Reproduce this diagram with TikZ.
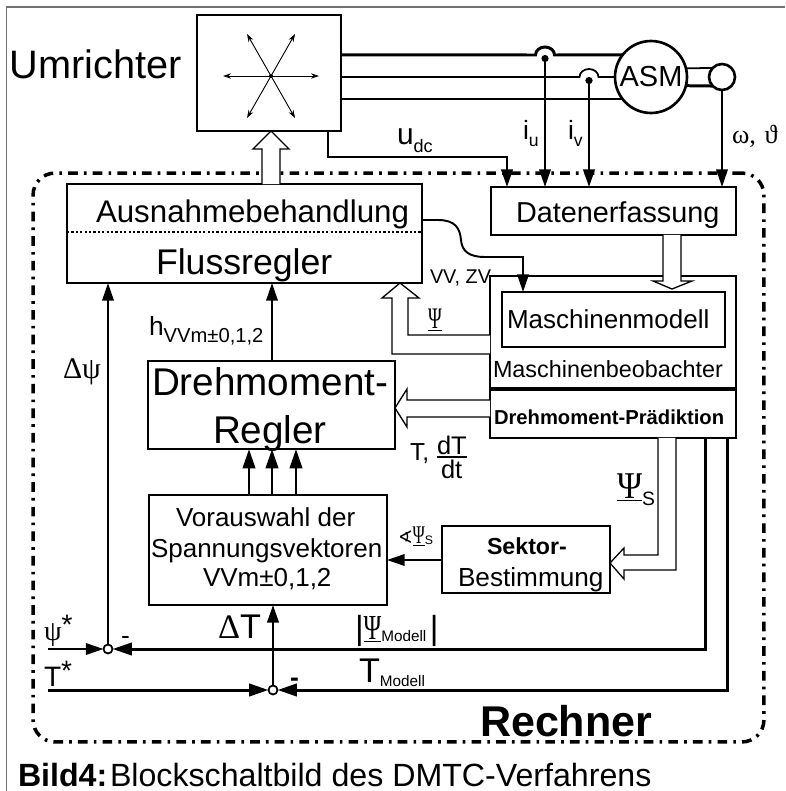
\documentclass[tikz,border=0pt]{standalone}
\usepackage{fontspec}
\usepackage{xcolor}
\usepackage{graphicx}
\setmainfont{Liberation Sans}
\newfontfamily\symfont{Liberation Serif}
\newfontfamily\angfont{DejaVu Sans}
\usetikzlibrary{arrows.meta,shapes.geometric}
\newcommand{\subtxt}[3]{\raisebox{-#1pt}{\fontsize{#2}{#2}\selectfont #3}}
\newcommand{\npsi}[1]{\underline{\scalebox{#1}[1]{Ψ}}}
\tikzset{
  blockbox/.style 2 args={draw, minimum width=#1cm, minimum height=#2cm, inner sep=0pt, outer sep=0pt, line width=1.2pt},
  txt/.style={anchor=base west, inner sep=0pt, outer sep=0pt, font=\fontsize{#1}{#1}\selectfont},
  txtb/.style={anchor=base west, inner sep=0pt, outer sep=0pt, font=\bfseries\fontsize{#1}{#1}\selectfont},
  txts/.style={anchor=base west, inner sep=0pt, outer sep=0pt, font=\symfont\fontsize{#1}{#1}\selectfont},
  thinline/.style={line width=1pt},
  thickline/.style={line width=1.7pt},
  arr/.style={-{Triangle[length=10pt,width=6.5pt]}, line width=1.1pt},
  thickarr/.style={-{Triangle[length=11pt,width=7pt]}, line width=1.7pt},
  hollow/.style={line width=0.75pt, fill=white},
  stararr/.style={-{Stealth[length=4.5pt,width=3pt]}, line width=0.5pt},
  sumdot/.style={circle, draw, fill=white, minimum size=0.18cm, inner sep=0pt, outer sep=0pt, line width=1pt},
  rechnerframe/.style={draw, minimum width=14.62cm, minimum height=11.38cm, inner sep=0pt, outer sep=0pt,
    rounded corners=0.44cm, line width=2pt, dash pattern=on 5.5pt off 3.5pt on 1.5pt off 3.5pt},
}
\begin{document}
\begin{tikzpicture}[x=0.02cm, y=-0.02cm]
  \useasboundingbox (0,0) rectangle (785,791);
  \draw[line width=0.9pt, black!55] (6.5,791) -- (6.5,7) -- (785,7);
  \node[rechnerframe] (rechner) at (398.5,457.5) {};

  \node[blockbox={2.88}{2.32}, line width=0.9pt] (umr) at (269,73) {};
  \node[blockbox={7.1}{1.98}, line width=1.5pt] (aus) at (244.5,233.5) {};
  \node[blockbox={4.9}{0.96}, line width=1pt] (dat) at (613.5,211) {};
  \node[blockbox={4.92}{3.24}] (beob) at (613,357) {};
  \node[blockbox={4.46}{1.1}] (modell) at (613.5,319.5) {};
  \node[blockbox={4.94}{1.76}] (reg) at (271.5,405) {};
  \node[blockbox={4.76}{2.2}] (vor) at (268,550) {};
  \node[blockbox={3.36}{1.34}] (sek) at (526,559.5) {};
  \node[circle, draw, line width=1.5pt, minimum size=1.44cm, inner sep=0pt, outer sep=0pt,
    font=\fontsize{16.5}{16.5}\selectfont] (asm) at (651,77) {ASM};
  \node[circle, draw, line width=1.5pt, minimum size=0.52cm, inner sep=0pt, outer sep=0pt] (enc) at (722,77) {};
  \node[sumdot] (sumpsi) at (108,649) {};
  \node[sumdot] (sumt) at (273,690) {};
  \coordinate (star) at (271,76);
  \coordinate (iu) at (545,55);
  \coordinate (iv) at (589,77);
  \coordinate (psiin) at (48,649);
  \coordinate (tin) at (48,690);

  \foreach \dx/\dy in {48/0,-48/0,24/-42,-24/-42,24/42,-24/42} {
    \draw[stararr] (star) -- ++(\dx,\dy);
  }
  \fill (star) circle (2);

  \draw[dash pattern=on 1.3pt off 1.2pt, line width=0.9pt] (aus.west |- 0,232) -- (aus.east |- 0,232);
  \draw[line width=1.8pt] (beob.west |- 0,389) -- (beob.east |- 0,389);

  \draw[thickline] (umr.east |- asm.142) -- (535.5,55) arc[start angle=180, end angle=360, x radius=9.5, y radius=8] -- (asm.142);
  \draw[thinline] (umr.east |- asm.180) -- (579.5,77) arc[start angle=180, end angle=360, x radius=9.5, y radius=8] -- (asm.180);
  \draw[thinline] (umr.east |- asm.218) -- (asm.218);
  \draw[thinline] (asm.14) -- (enc.136);
  \draw[thickline] (asm.346) -- (enc.224);

  \draw[{Circle[length=4pt]}-{Triangle[length=10pt,width=6.5pt]}, line width=1.1pt] (iu) -- (iu |- dat.north);
  \draw[{Circle[length=4pt]}-{Triangle[length=10pt,width=6.5pt]}, line width=1.5pt] (iv) -- (iv |- dat.north);
  \draw[arr] (enc.south) -- (enc.south |- dat.north);
  \draw[arr, line width=1.4pt] (328,0 |- umr.south) -- (328,157) -- (507,157) -- (507,0 |- dat.north);
  \draw[arr] (aus.east |- 0,220) -- (438,220) .. controls (455,220) and (460,228) .. (461,240)
    .. controls (462,252) and (470,257) .. (485,257) -- (523,257) -- (523,0 |- modell.north);

  \draw[hollow] (262,0 |- aus.north) -- (262,149) -- (253,149) -- (271,0 |- umr.south) -- (289,149) -- (280,149) -- (280,0 |- aus.north);
  \draw[hollow] (663,0 |- dat.south) -- (663,281) -- (653,281) -- (672,289) -- (692,281) -- (681,281) -- (681,0 |- dat.south);
  \draw[hollow] (beob.west |- 0,335) -- (408,335) -- (408,298) -- (419,298) -- (400,0 |- aus.south) -- (382,298) -- (392,298) -- (392,354) -- (beob.west |- 0,354);
  \draw[hollow] (beob.west |- 0,400) -- (407,400) -- (407,389) -- (reg.east |- 0,408) -- (407,427) -- (407,417) -- (beob.west |- 0,417);
  \draw[hollow] (658,0 |- beob.south) -- (658,555) -- (624,555) -- (624,548) -- (sek.east |- 0,563) -- (624,579) -- (624,570) -- (676,570) -- (676,0 |- beob.south);

  \draw[arr] (sumpsi.north) -- (sumpsi.north |- aus.south);
  \draw[arr] (272,0 |- reg.north) -- (272,0 |- aus.south);
  \foreach \xp in {249,272,296} {
    \draw[thickarr] (\xp,0 |- vor.north) -- (\xp,0 |- reg.south);
  }
  \draw[arr] (sek.west |- 0,560) -- (vor.east |- 0,560);
  \draw[arr, line width=1.5pt] (sumt.north) -- (sumt.north |- vor.south);
  \draw[arr] (psiin) -- (sumpsi.west);
  \draw[thickarr] (tin) -- (sumt.west);
  \draw[thickarr] (705,0 |- beob.south) -- (705,649) -- (sumpsi.east);
  \draw[thickarr] (727,0 |- beob.south) -- (727,690) -- (sumt.east);

  \node[txt=22.6] (umrText) at (10,78) {Umrichter};
  \node[txt=17.8] (ausText) at (96,222) {Ausnahmebehandlung};
  \node[txt=20.3] (flussText) at (156,274) {Flussregler};
  \node[txt=22] (regTextA) at (152,395) {Drehmoment-};
  \node[txt=22] (regTextB) at (213,443) {Regler};
  \node[txt=14.8] (vorTextA) at (176,526) {Vorauswahl der};
  \node[txt=14.8] (vorTextB) at (151,557) {Spannungsvektoren};
  \node[txt=14.8] (vorTextC) at (203,586) {VVm±0,1,2};
  \node[txt=16.4] (datText) at (516,222) {Datenerfassung};
  \node[txt=14.8] (modellText) at (507,328) {Maschinenmodell};
  \node[txt=13.3] (beobText) at (493,377) {Maschinenbeobachter};
  \node[txtb=11.5] (predText) at (494,424) {Drehmoment-Prädiktion};
  \node[txtb=13.2] (sekTextA) at (487,554) {Sektor-};
  \node[txt=14.9] (sekTextB) at (458,586) {Bestimmung};
  \node[txtb=24.5] (rechnerText) at (480,736) {Rechner};
  \node[txtb=18.3] (bildText) at (18,786) {Bild4:};
  \node[txt=18.3] (capText) at (110,786) {Blockschaltbild des DMTC-Verfahrens};
  \node[txt=11.3] (vvText) at (430,283) {VV, ZV};

  \node[txt=15] (hText) at (149,335) {h\subtxt{4.5}{11.5}{VVm±0,1,2}};
  \node[txt=17] (udcText) at (397,144) {u\subtxt{5}{10.3}{dc}};
  \node[txt=15] (iuText) at (523,139) {i\subtxt{4.5}{10}{u}};
  \node[txt=15] (ivText) at (568,139) {i\subtxt{4.5}{10}{v}};
  \node[txts=15] (omegaText) at (732,143) {ω,\,\,ϑ};
  \node[txts=17] (dpsiText) at (63,378) {Δψ};
  \node[txt=16] (psiStar) at (44,640) {{\symfont ψ}\raisebox{3pt}{*}};
  \node[txt=16] (tStar) at (44,686) {T\raisebox{3pt}{*}};
  \node[txt=19.5] (dtText) at (218,638) {{\symfont Δ}T};
  \node[txt=19] (psiMod) at (355,639) {|{\fontsize{20}{20}\symfont\selectfont\npsi{.68}}\subtxt{1.7}{8.7}{Modell}\hspace{2pt}|};
  \node[txt=19.5] (tMod) at (359,682) {T\subtxt{2.3}{8.7}{Modell}};
  \node[txts=21.5] (psiS) at (617,498) {\npsi{.9}\subtxt{4}{11}{\normalfont S}};
  \node[txts=14.5] (angPsi) at (398,543) {{\angfont\fontsize{10}{10}\selectfont ∢}\npsi{.65}\subtxt{1}{7}{\normalfont S}};
  \node[txts=17] (psiFl) at (428,328) {\npsi{.62}};
  \node[txt=14] (tComma) at (410,460) {T,};
  \node[txt=14.5] (dtTop) at (437,454) {dT};
  \node[txt=14.5] (dtBot) at (441,478) {dt};
  \draw[line width=0.9pt] (dtTop.base west |- 0,457) -- (dtTop.base east |- 0,457);
  \node[txt=15] (minusPsi) at (121,644) {-};
  \node[txtb=15] (minusT) at (290,686) {-};
\end{tikzpicture}
\end{document}
